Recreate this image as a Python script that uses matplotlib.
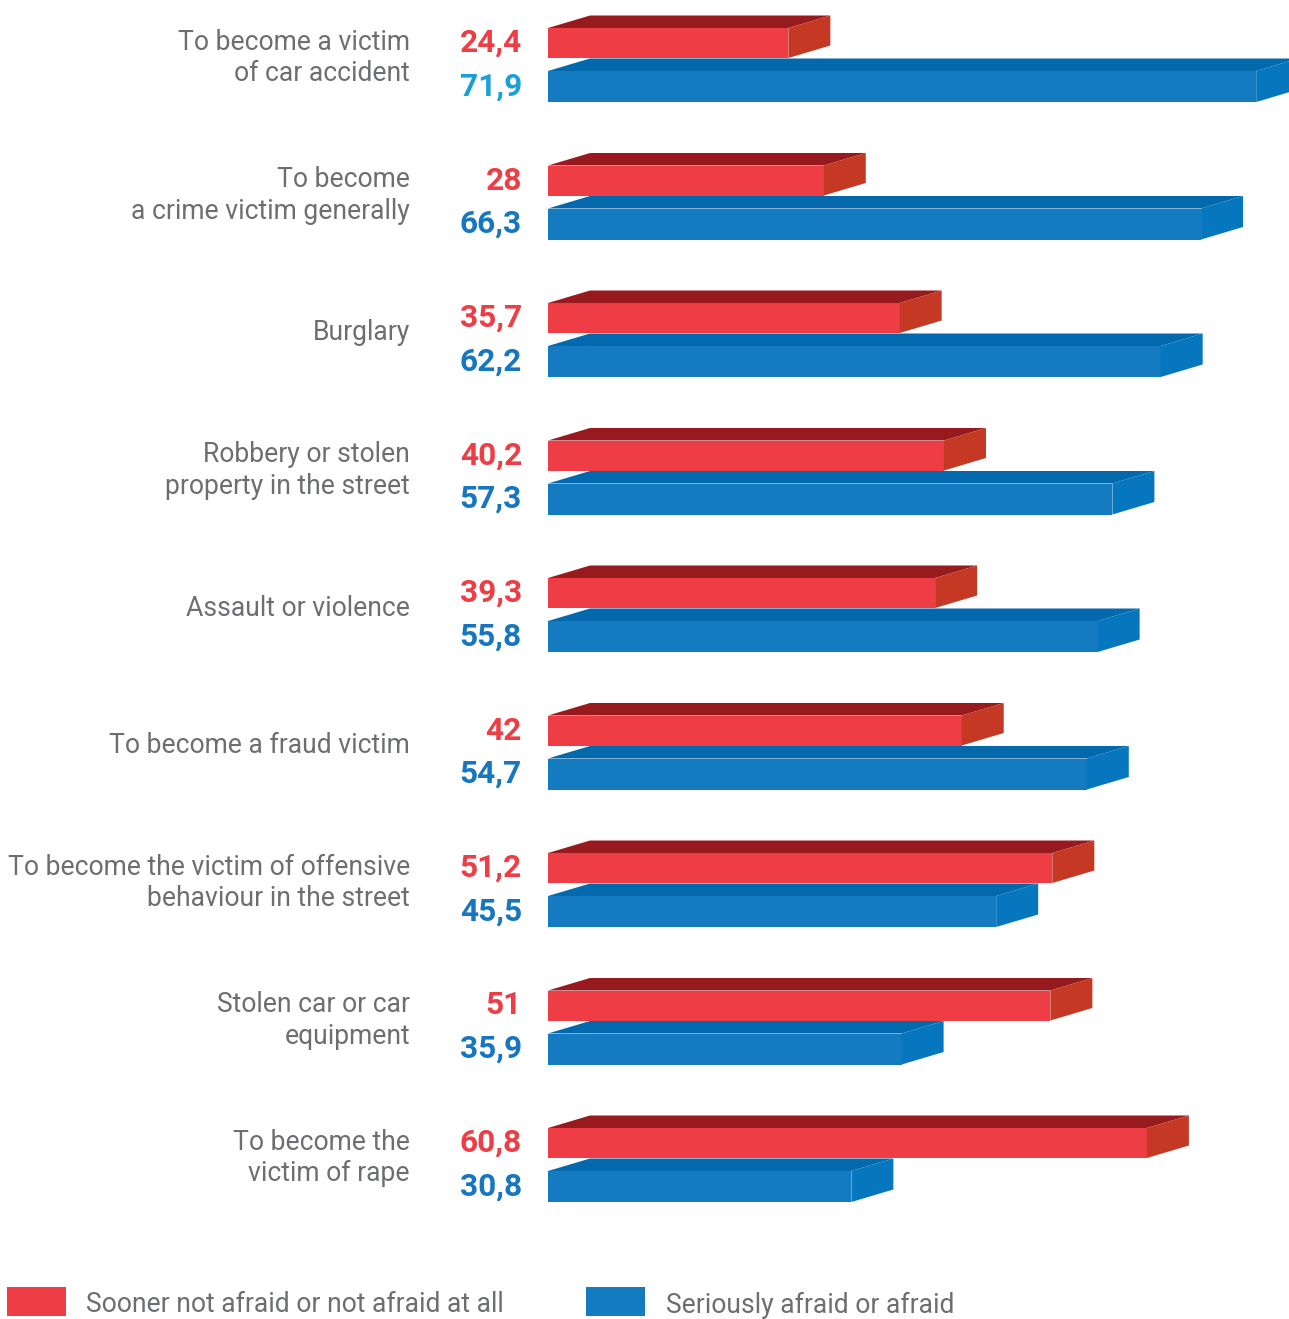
import matplotlib
matplotlib.use("Agg")
import matplotlib.pyplot as plt
from matplotlib.patches import Polygon, Rectangle

categories = [
    "To become a victim\nof car accident",
    "To become\na crime victim generally",
    "Burglary",
    "Robbery or stolen\nproperty in the street",
    "Assault or violence",
    "To become a fraud victim",
    "To become the victim of offensive\nbehaviour in the street",
    "Stolen car or car\nequipment",
    "To become the\nvictim of rape",
]
not_afraid = [24.4, 28, 35.7, 40.2, 39.3, 42, 51.2, 51, 60.8]
afraid = [71.9, 66.3, 62.2, 57.3, 55.8, 54.7, 45.5, 35.9, 30.8]
not_afraid_labels = ["24,4", "28", "35,7", "40,2", "39,3", "42", "51,2", "51", "60,8"]
afraid_labels = ["71,9", "66,3", "62,2", "57,3", "55,8", "54,7", "45,5", "35,9", "30,8"]
legend_labels = ["Sooner not afraid or not afraid at all", "Seriously afraid or afraid"]

RED = dict(front="#ee3d45", top="#971a1f", side="#c53824", text="#ee3d45")
BLUE = dict(front="#147bc1", top="#0369ac", side="#0677bf", text="#1677c0")
GRAY = "#6d6e71"
FONT = ["Roboto", "DejaVu Sans"]

W, H = 1289, 1319
fig = plt.figure(figsize=(W / 100, H / 100), dpi=100)
ax = fig.add_axes([0, 0, 1, 1])
pxx = 9.85      # pixels per value unit
pxy = 137.5     # pixels per group
x0 = 548
yc0 = 65
ax.set_xlim(-x0 / pxx, (W - x0) / pxx)
ax.set_ylim((H - yc0) / pxy, -yc0 / pxy)
ax.axis("off")

dx = 42 / pxx
dy = 12.5 / pxy


def bar3d(y_top, y_bot, v, c):
    # front face
    ax.add_patch(Polygon([(0, y_top), (v, y_top), (v, y_bot), (0, y_bot)],
                         closed=True, facecolor=c["front"], edgecolor="none"))
    # top face
    ax.add_patch(Polygon([(0, y_top), (dx, y_top - dy), (v + dx, y_top - dy), (v, y_top)],
                         closed=True, facecolor=c["top"], edgecolor="none"))
    # side face
    ax.add_patch(Polygon([(v, y_top), (v + dx, y_top - dy), (v + dx, y_bot - dy), (v, y_bot)],
                         closed=True, facecolor=c["side"], edgecolor="none"))


r_top, r_bot = -37 / pxy, -7 / pxy
b_top, b_bot = 6 / pxy, 37 / pxy
lab_x = -26 / pxx

for i, cat in enumerate(categories):
    bar3d(i + r_top, i + r_bot, not_afraid[i], RED)
    bar3d(i + b_top, i + b_bot, afraid[i], BLUE)
    ax.text(lab_x, i + (r_top + r_bot) / 2, not_afraid_labels[i], ha="right", va="center",
            fontsize=22.8, fontweight="bold", color=RED["text"], family=FONT)
    bcol = "#1aa0d8" if i == 0 else BLUE["text"]
    ax.text(lab_x, i + (b_top + b_bot) / 2, afraid_labels[i], ha="right", va="center",
            fontsize=22.8, fontweight="bold", color=bcol, family=FONT)
    ax.text(-138 / pxx, i - 7 / pxy, cat, ha="right", va="center", fontsize=19.1,
            color=GRAY, family=FONT, linespacing=1.22)

# legend
ly = (1301 - yc0) / pxy
lh = 29 / pxy
for (lx, tx), lab, c in zip([(7, 86), (586, 666)], legend_labels, [RED, BLUE]):
    ax.add_patch(Rectangle(((lx - x0) / pxx, ly - lh / 2), 59 / pxx, lh,
                           facecolor=c["front"], edgecolor="none"))
    ax.text((tx - x0) / pxx, ly + 4 / pxy, lab, ha="left", va="center", fontsize=19.1,
            color=GRAY, family=FONT)

fig.savefig("out.png", dpi=100)
